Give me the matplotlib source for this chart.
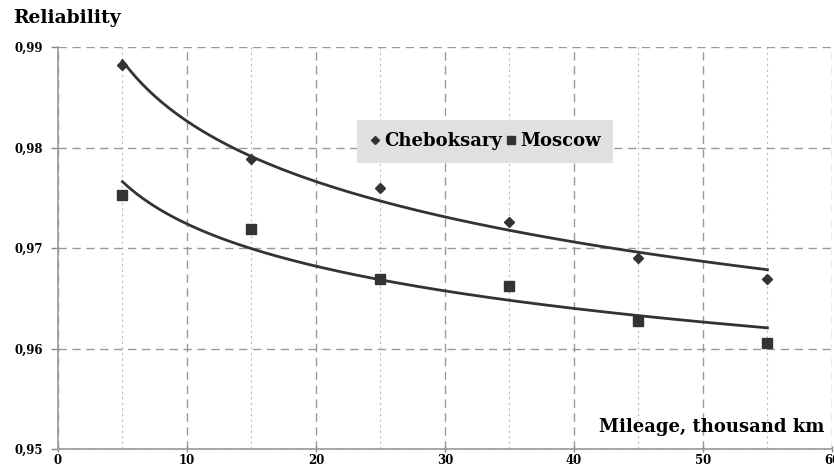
import numpy as np
import matplotlib
matplotlib.use("Agg")
import matplotlib.pyplot as plt
from matplotlib.ticker import MultipleLocator, FuncFormatter

mileage = [5, 15, 25, 35, 45, 55]
cheboksary = [0.9882, 0.9789, 0.9760, 0.9726, 0.9690, 0.9669]
moscow = [0.9753, 0.9719, 0.9669, 0.9662, 0.9627, 0.9605]
series_names = ["Cheboksary", "Moscow"]

plt.rcParams['font.family'] = ['DejaVu Serif']
plt.rcParams['font.weight'] = 'bold'

fig = plt.figure(figsize=(8.34, 4.71), dpi=100)
ax = fig.add_axes([0.0695, 0.0467, 0.928, 0.8535])

ax.set_xlim(0, 60)
ax.set_ylim(0.95, 0.99)

ax.xaxis.set_major_locator(MultipleLocator(10))
ax.xaxis.set_minor_locator(MultipleLocator(5))
ax.yaxis.set_major_locator(MultipleLocator(0.01))
ax.grid(which='major', axis='x', color='#999999', linestyle=(0, (6, 4)), linewidth=1.0)
ax.grid(which='minor', axis='x', color='#bbbbbb', linestyle=(0, (2, 3)), linewidth=0.8)
ax.grid(which='major', axis='y', color='#999999', linestyle=(0, (6, 4)), linewidth=1.0)
ax.set_axisbelow(True)

for s in ['top', 'right']:
    ax.spines[s].set_visible(False)
for s in ['left', 'bottom']:
    ax.spines[s].set_color('#999999')
    ax.spines[s].set_linewidth(1.2)

ax.tick_params(axis='y', which='major', labelsize=8.5, colors='#888888', labelcolor='black',
               length=5, width=1, pad=6)
ax.tick_params(axis='x', which='minor', length=0)
ax.tick_params(axis='x', which='major', labelsize=8.5, colors='#888888', labelcolor='black',
               length=5, width=1, direction='inout', pad=1)
ax.yaxis.set_major_formatter(FuncFormatter(lambda v, p: f"{v:.2f}".replace('.', ',')))
ax.xaxis.set_major_formatter(FuncFormatter(lambda v, p: f"{int(round(v))}"))
for lbl in ax.get_xticklabels() + ax.get_yticklabels():
    lbl.set_fontweight('bold')

x = np.array(mileage, dtype=float)
xs = np.linspace(5, 55, 200)
col = '#333333'
for vals in (cheboksary, moscow):
    a, b = np.polyfit(np.log(x), np.array(vals), 1)
    ax.plot(xs, a * np.log(xs) + b, color=col, linewidth=2.0, zorder=3)

ax.plot(mileage, cheboksary, linestyle='none', marker='D', markersize=5, color=col,
        label=series_names[0], zorder=4)
ax.plot(mileage, moscow, linestyle='none', marker='s', markersize=7, color=col,
        label=series_names[1], zorder=4)

leg = ax.legend(loc='center', bbox_to_anchor=(0.5517, 0.765), ncol=2, frameon=True,
                fancybox=False, handlelength=0.6, handletextpad=0.2, columnspacing=0.2,
                borderpad=0.7, prop={'family': 'DejaVu Serif', 'weight': 'bold', 'size': 13})
leg.get_frame().set_facecolor('#e0e0e0')
leg.get_frame().set_edgecolor('none')
leg.get_frame().set_alpha(1)
leg.legend_handles[0].set_markersize(4)
leg.legend_handles[1].set_markersize(6)

fig.text(0.016, 0.962, "Reliability", fontsize=13.5, fontweight='bold', ha='left', va='center')
ax.text(0.99, 0.055, "Mileage, thousand km", transform=ax.transAxes, fontsize=13,
        fontweight='bold', ha='right', va='center')

fig.savefig("out.png", dpi=100)
